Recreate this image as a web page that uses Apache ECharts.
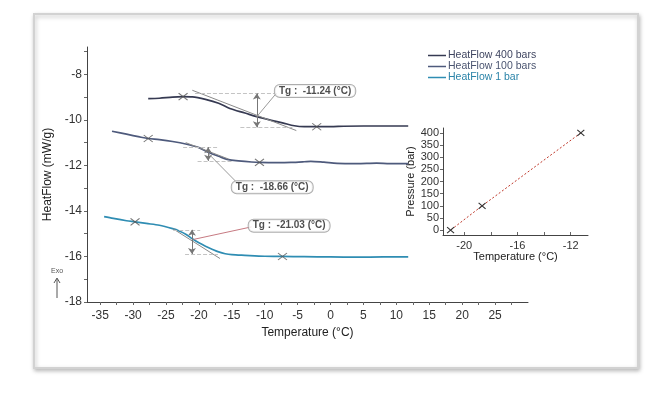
<!DOCTYPE html>
<html><head><meta charset="utf-8">
<script src="https://cdn.jsdelivr.net/npm/echarts@6/dist/echarts.min.js"></script>
<style>html,body{margin:0;padding:0;background:#fff}#c{width:668px;height:394px}</style>
</head><body><div id="c"></div>
<script>
// ---- data ----
const t400 = [-27.7,-26,-24,-22.4,-21,-19,-17,-15.3,-13,-11.2,-9,-7.3,-5.5,-4,-2,0,2,5,8,11.8];
const hf400 = [-9.07,-9.05,-9.0,-8.98,-8.99,-9.1,-9.27,-9.5,-9.7,-9.86,-10.02,-10.13,-10.26,-10.3,-10.3,-10.3,-10.28,-10.27,-10.27,-10.27];
const t100 = [-33.2,-31,-29,-27.7,-26,-24,-22,-20,-18.6,-17,-15.5,-14,-12,-10.8,-8,-6,-4,-3,-1,1,4,7,9,11.8];
const hf100 = [-10.5,-10.63,-10.75,-10.82,-10.87,-10.95,-11.06,-11.22,-11.42,-11.6,-11.75,-11.8,-11.85,-11.87,-11.88,-11.87,-11.84,-11.82,-11.86,-11.91,-11.92,-11.9,-11.92,-11.92];
const t1 = [-34.4,-33,-31,-29.7,-28,-26,-24,-23,-22,-21,-20,-19,-18,-17,-16,-15,-13,-10,-7.3,-4,0,4,8,11.8];
const hf1 = [-14.25,-14.33,-14.43,-14.48,-14.55,-14.63,-14.78,-14.88,-15.02,-15.22,-15.4,-15.55,-15.68,-15.8,-15.88,-15.92,-15.95,-15.99,-16.0,-16.01,-16.02,-16.03,-16.02,-16.02];
const seriesNames = ['HeatFlow 400 bars','HeatFlow 100 bars','HeatFlow 1 bar'];
const markerT = [[-22.4,-2.1],[-27.7,-10.8],[-29.7,-7.3]];
const markerHF = [[-8.98,-10.3],[-10.82,-11.87],[-14.48,-16.0]];
const tgValues = [-11.24,-18.66,-21.03];
const pressures = [400,100,0];
const tgLabelT = [-2.35,-8.86,-6.29];
const tgLabelHF = [-8.73,-12.96,-14.65];
// annotation geometry (data units)
const tangents = [[[-21,-8.7],[-5.2,-10.47]],[[-22,-11.0],[-15.5,-11.72]],[[-23.9,-14.79],[-16.8,-16.09]]];
const dotted = [[[-20.6,-8.84],[-8.5,-8.84]],[[-13.7,-10.33],[-5.7,-10.33]],
                [[-22.4,-11.2],[-17.1,-11.2]],[[-20.2,-11.8],[-15,-11.8]],
                [[-23.9,-14.83],[-19.8,-14.83]],[[-22.1,-15.89],[-17.1,-15.89]]];
const arrows = [[[-11.2,-8.84],[-11.2,-10.33]],[[-18.6,-11.2],[-18.6,-11.8]],[[-21.05,-14.83],[-21.05,-15.89]]];
const connectors = [[[-11.2,-9.86],[-8.2,-8.82]],[[-18.5,-11.5],[-14.2,-12.76]],[[-20.8,-15.25],[-12.0,-14.7]]];
const xTicksMain = [-35,-30,-25,-20,-15,-10,-5,0,5,10,15,20,25];
const yTicksMain = [-18,-16,-14,-12,-10,-8];
const insetXTicks = [-20,-16,-12];
const insetYTicks = [0,50,100,150,200,250,300,350,400];

const colors = ['#363a52','#4e5a7c','#2f8db3'];
const FONT = 'Liberation Sans, Arial, sans-serif';
const zip = (a,b)=>a.map((v,i)=>[v,b[i]]);
const curves = [zip(t400,hf400), zip(t100,hf100), zip(t1,hf1)];
const xSym = 'path://M0,0L10,10M10,0L0,10';

const minorX = []; for (let v=-35; v<=27.5; v+=2.5) minorX.push(v);
const minorY = []; for (let v=-18; v<=-7; v+=1) minorY.push(v);

const series = [];
curves.forEach((d,i)=>{
  series.push({name: seriesNames[i], type:'line', data:d, showSymbol:false, smooth:0.3,
    lineStyle:{color:colors[i], width:1.7}, itemStyle:{color:colors[i]}, z:3});
  series.push({type:'scatter', data: zip(markerT[i], markerHF[i]), symbol:xSym, symbolSize:[9,7],
    itemStyle:{color:'none', borderColor:'#555', borderWidth:1}, z:4, silent:true});
});
const ml = (pairs, style, sym)=>({type:'line', data:[], silent:true, markLine:{silent:true, symbol: sym||['none','none'], symbolSize:[6,6],
  label:{show:false}, lineStyle:style, animation:false,
  data: pairs.map(p=>[{coord:p[0]},{coord:p[1]}])}});
series.push(ml(tangents, {color:'#8a8a8a', width:1, type:'solid'}));
series.push(ml(dotted, {color:'#c4c4c4', width:1, type:'dashed'}));
series.push(ml(arrows, {color:'#777', width:1, type:'solid'}, ['arrow','arrow']));
series.push(ml(connectors.slice(0,2), {color:'#9a9a9a', width:1, type:'solid'}));
series.push(ml(connectors.slice(2), {color:'#c77a82', width:1, type:'solid'}));
series.push({type:'scatter', data: tgLabelT.map((t,i)=>[t, tgLabelHF[i], tgValues[i]]), symbolSize:0, silent:true, z:6,
  label:{show:true, position:'inside', formatter:p=>'Tg :  '+p.value[2].toFixed(2)+' (°C)',
    fontFamily:FONT, fontSize:10, fontWeight:'bold', color:'#222', backgroundColor:'#fff',
    borderColor:'#999', borderWidth:1, borderRadius:5, padding:[1,4,1,4]}});
// inset
series.push({type:'line', xAxisIndex:1, yAxisIndex:1, data: zip(tgValues, pressures), symbol:xSym, symbolSize:[7,6],
  lineStyle:{color:'#c0392b', width:1, type:[2,2]}, itemStyle:{color:'none', borderColor:'#333', borderWidth:1}});

const axisLbl = {fontFamily:FONT, fontSize:12, color:'#333'};
const option = {
  animation:false,
  textStyle:{fontFamily:FONT},
  graphic:[
    {type:'rect', z:-10, shape:{x:34,y:14,width:604,height:354}, style:{fill:'#fff', stroke:'#d2d2d2', lineWidth:2,
      shadowBlur:4, shadowColor:'rgba(0,0,0,0.25)', shadowOffsetX:1, shadowOffsetY:2}},
    {type:'text', left:51, top:268, style:{text:'Exo', fontSize:7, fill:'#555', fontFamily:FONT}},
    {type:'line', shape:{x1:57,y1:298,x2:57,y2:279}, style:{stroke:'#555', lineWidth:1}},
    {type:'polyline', shape:{points:[[54,283],[57,278],[60,283]]}, style:{stroke:'#555', lineWidth:1, fill:'none'}}
  ],
  legend:{left:423, top:45, orient:'vertical', itemGap:0, itemWidth:18, itemHeight:1.5, icon:'rect',
    data:[{name:seriesNames[0], textStyle:{color:'#3f4560'}},{name:seriesNames[1], textStyle:{color:'#4a5470'}},{name:seriesNames[2], textStyle:{color:'#2a83a8'}}],
    textStyle:{fontFamily:FONT, fontSize:10.5, padding:[0,0,0,-3]}},
  grid:[{left:87, top:47, width:441, height:255},{left:443, top:128, width:145, height:107}],
  xAxis:[
    {type:'value', min:-37, max:30, name:'Temperature (°C)', nameLocation:'middle', nameGap:19,
      nameTextStyle:{fontFamily:FONT, fontSize:12, color:'#222'},
      axisLine:{onZero:false, lineStyle:{color:'#444'}}, splitLine:{show:false},
      axisTick:{customValues:minorX, length:3, lineStyle:{color:'#666'}},
      axisLabel:Object.assign({customValues:xTicksMain, margin:8}, axisLbl)},
    {type:'value', gridIndex:1, min:-21.6, max:-10.7, name:'Temperature (°C)', nameLocation:'middle', nameGap:15,
      nameTextStyle:{fontFamily:FONT, fontSize:11, color:'#222'},
      axisLine:{onZero:false, lineStyle:{color:'#444'}}, splitLine:{show:false},
      axisTick:{customValues:[-20,-18,-16,-14,-12], length:3, inside:true, lineStyle:{color:'#666'}},
      axisLabel:{customValues:insetXTicks, margin:5, fontFamily:FONT, fontSize:11, color:'#333'}}
  ],
  yAxis:[
    {type:'value', min:-18, max:-6.8, name:'HeatFlow (mW/g)', nameLocation:'middle', nameGap:30,
      nameTextStyle:{fontFamily:FONT, fontSize:12, color:'#222'},
      axisLine:{show:true, onZero:false, lineStyle:{color:'#444'}}, splitLine:{show:false},
      axisTick:{show:true, customValues:minorY, length:3, lineStyle:{color:'#666'}},
      axisLabel:Object.assign({customValues:yTicksMain, margin:5}, axisLbl)},
    {type:'value', gridIndex:1, min:-20, max:420, name:'Pressure (bar)', nameLocation:'middle', nameGap:24,
      nameTextStyle:{fontFamily:FONT, fontSize:11, color:'#222'},
      axisLine:{show:true, onZero:false, lineStyle:{color:'#444'}}, splitLine:{show:false},
      axisTick:{show:true, customValues:insetYTicks, length:3, lineStyle:{color:'#666'}},
      axisLabel:{customValues:insetYTicks, margin:4, fontFamily:FONT, fontSize:11, color:'#333'}}
  ],
  series: series
};
const chart = echarts.init(document.getElementById('c'));
chart.setOption(option);
</script></body></html>
